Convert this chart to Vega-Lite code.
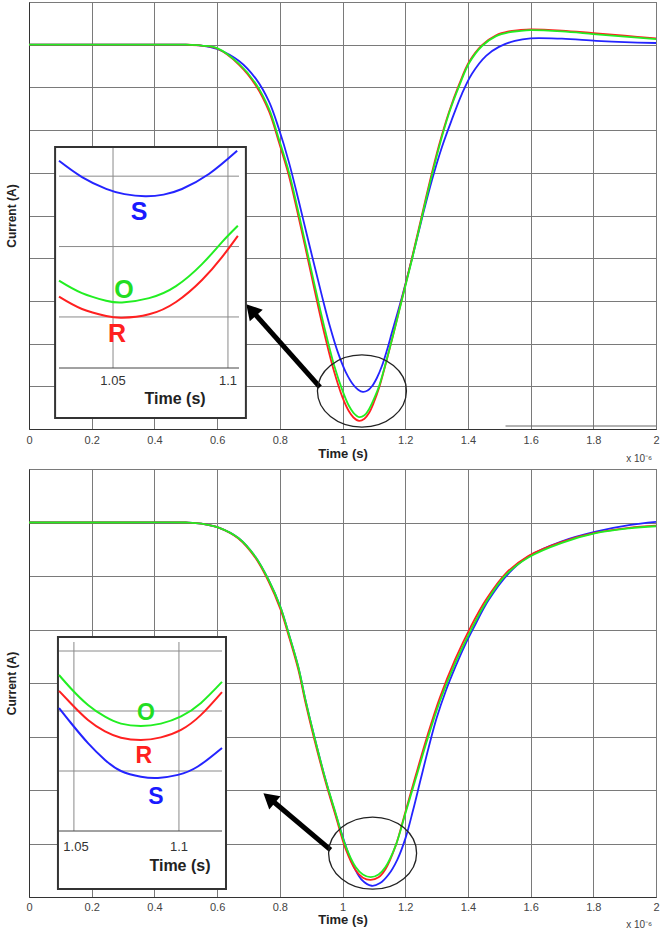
{
  "$schema": "https://vega.github.io/schema/vega-lite/v6.json",
  "padding": {"left": 4, "top": 1, "right": 0, "bottom": 0},
  "bounds": "flush",
  "spacing": 40,
  "config": {
    "view": {"stroke": "#555", "strokeWidth": 1},
    "font": "Liberation Sans",
    "axis": {"labelFont": "Liberation Sans", "titleFont": "Liberation Sans", "gridColor": "#7a7a7a", "gridOpacity": 1, "gridWidth": 1, "domainColor": "#333", "labelColor": "#444", "titleColor": "#222"}
  },
  "datasets": {
    "topMain": [
      {"s":"S","t":0,"i":9.0},{"s":"S","t":0.3,"i":9.0},{"s":"S","t":0.5,"i":9.0},{"s":"S","t":0.55,"i":8.98},{"s":"S","t":0.6,"i":8.9},{"s":"S","t":0.67,"i":8.62},{"s":"S","t":0.724,"i":8.2},{"s":"S","t":0.766,"i":7.66},{"s":"S","t":0.797,"i":7.03},{"s":"S","t":0.829,"i":6.25},{"s":"S","t":0.861,"i":5.32},{"s":"S","t":0.884,"i":4.62},{"s":"S","t":0.91,"i":3.84},{"s":"S","t":0.935,"i":3.1},{"s":"S","t":0.96,"i":2.4},{"s":"S","t":0.985,"i":1.8},{"s":"S","t":1.01,"i":1.34},{"s":"S","t":1.035,"i":1.03},{"s":"S","t":1.05,"i":0.92},{"s":"S","t":1.065,"i":0.87},{"s":"S","t":1.08,"i":0.9},{"s":"S","t":1.094,"i":1.0},{"s":"S","t":1.11,"i":1.2},{"s":"S","t":1.126,"i":1.48},{"s":"S","t":1.142,"i":1.85},{"s":"S","t":1.158,"i":2.27},{"s":"S","t":1.19,"i":3.1},{"s":"S","t":1.222,"i":4.0},{"s":"S","t":1.253,"i":4.92},{"s":"S","t":1.285,"i":5.82},{"s":"S","t":1.317,"i":6.6},{"s":"S","t":1.349,"i":7.25},{"s":"S","t":1.381,"i":7.85},{"s":"S","t":1.413,"i":8.32},{"s":"S","t":1.458,"i":8.74},{"s":"S","t":1.499,"i":8.95},{"s":"S","t":1.55,"i":9.09},{"s":"S","t":1.6,"i":9.15},{"s":"S","t":1.7,"i":9.14},{"s":"S","t":1.809,"i":9.09},{"s":"S","t":1.9,"i":9.06},{"s":"S","t":2.0,"i":9.04},
      {"s":"R","t":0,"i":9.0},{"s":"R","t":0.3,"i":9.0},{"s":"R","t":0.5,"i":9.0},{"s":"R","t":0.55,"i":8.98},{"s":"R","t":0.6,"i":8.91},{"s":"R","t":0.67,"i":8.53},{"s":"R","t":0.724,"i":8.04},{"s":"R","t":0.766,"i":7.43},{"s":"R","t":0.797,"i":6.72},{"s":"R","t":0.829,"i":5.93},{"s":"R","t":0.855,"i":5.12},{"s":"R","t":0.88,"i":4.3},{"s":"R","t":0.909,"i":3.32},{"s":"R","t":0.94,"i":2.3},{"s":"R","t":0.973,"i":1.35},{"s":"R","t":1.0,"i":0.74},{"s":"R","t":1.02,"i":0.42},{"s":"R","t":1.035,"i":0.27},{"s":"R","t":1.053,"i":0.19},{"s":"R","t":1.07,"i":0.24},{"s":"R","t":1.085,"i":0.38},{"s":"R","t":1.1,"i":0.62},{"s":"R","t":1.117,"i":0.97},{"s":"R","t":1.158,"i":2.1},{"s":"R","t":1.19,"i":3.06},{"s":"R","t":1.222,"i":4.02},{"s":"R","t":1.25,"i":4.9},{"s":"R","t":1.276,"i":5.72},{"s":"R","t":1.308,"i":6.65},{"s":"R","t":1.34,"i":7.43},{"s":"R","t":1.372,"i":8.07},{"s":"R","t":1.404,"i":8.6},{"s":"R","t":1.445,"i":8.99},{"s":"R","t":1.49,"i":9.22},{"s":"R","t":1.53,"i":9.31},{"s":"R","t":1.563,"i":9.34},{"s":"R","t":1.6,"i":9.36},{"s":"R","t":1.7,"i":9.33},{"s":"R","t":1.8,"i":9.27},{"s":"R","t":1.9,"i":9.21},{"s":"R","t":2.0,"i":9.15},
      {"s":"O","t":0,"i":9.0},{"s":"O","t":0.3,"i":9.0},{"s":"O","t":0.5,"i":9.0},{"s":"O","t":0.55,"i":8.98},{"s":"O","t":0.6,"i":8.92},{"s":"O","t":0.67,"i":8.55},{"s":"O","t":0.724,"i":8.08},{"s":"O","t":0.766,"i":7.49},{"s":"O","t":0.797,"i":6.79},{"s":"O","t":0.829,"i":6.02},{"s":"O","t":0.855,"i":5.22},{"s":"O","t":0.88,"i":4.4},{"s":"O","t":0.909,"i":3.44},{"s":"O","t":0.94,"i":2.45},{"s":"O","t":0.973,"i":1.5},{"s":"O","t":1.0,"i":0.9},{"s":"O","t":1.02,"i":0.55},{"s":"O","t":1.035,"i":0.38},{"s":"O","t":1.053,"i":0.28},{"s":"O","t":1.07,"i":0.32},{"s":"O","t":1.085,"i":0.47},{"s":"O","t":1.1,"i":0.7},{"s":"O","t":1.117,"i":1.01},{"s":"O","t":1.158,"i":2.1},{"s":"O","t":1.19,"i":3.04},{"s":"O","t":1.222,"i":3.98},{"s":"O","t":1.25,"i":4.86},{"s":"O","t":1.276,"i":5.67},{"s":"O","t":1.308,"i":6.6},{"s":"O","t":1.34,"i":7.4},{"s":"O","t":1.372,"i":8.03},{"s":"O","t":1.404,"i":8.57},{"s":"O","t":1.445,"i":8.97},{"s":"O","t":1.49,"i":9.2},{"s":"O","t":1.53,"i":9.29},{"s":"O","t":1.563,"i":9.32},{"s":"O","t":1.6,"i":9.34},{"s":"O","t":1.7,"i":9.31},{"s":"O","t":1.8,"i":9.25},{"s":"O","t":1.9,"i":9.19},{"s":"O","t":2.0,"i":9.13}
    ],
    "botMain": [
      {"s":"S","t":0,"i":7.0},{"s":"S","t":0.3,"i":7.0},{"s":"S","t":0.5,"i":7.0},{"s":"S","t":0.55,"i":6.98},{"s":"S","t":0.607,"i":6.9},{"s":"S","t":0.668,"i":6.71},{"s":"S","t":0.722,"i":6.36},{"s":"S","t":0.764,"i":5.93},{"s":"S","t":0.802,"i":5.42},{"s":"S","t":0.828,"i":4.93},{"s":"S","t":0.859,"i":4.3},{"s":"S","t":0.882,"i":3.68},{"s":"S","t":0.91,"i":3.0},{"s":"S","t":0.946,"i":2.19},{"s":"S","t":0.987,"i":1.38},{"s":"S","t":1.029,"i":0.66},{"s":"S","t":1.06,"i":0.33},{"s":"S","t":1.093,"i":0.21},{"s":"S","t":1.12,"i":0.26},{"s":"S","t":1.147,"i":0.42},{"s":"S","t":1.175,"i":0.7},{"s":"S","t":1.201,"i":1.1},{"s":"S","t":1.225,"i":1.62},{"s":"S","t":1.249,"i":2.19},{"s":"S","t":1.275,"i":2.8},{"s":"S","t":1.3,"i":3.34},{"s":"S","t":1.33,"i":3.86},{"s":"S","t":1.36,"i":4.3},{"s":"S","t":1.39,"i":4.7},{"s":"S","t":1.419,"i":5.04},{"s":"S","t":1.466,"i":5.55},{"s":"S","t":1.53,"i":6.05},{"s":"S","t":1.594,"i":6.37},{"s":"S","t":1.7,"i":6.65},{"s":"S","t":1.808,"i":6.83},{"s":"S","t":1.914,"i":6.95},{"s":"S","t":2.0,"i":7.01},
      {"s":"R","t":0,"i":7.0},{"s":"R","t":0.3,"i":7.0},{"s":"R","t":0.5,"i":7.0},{"s":"R","t":0.55,"i":6.98},{"s":"R","t":0.607,"i":6.9},{"s":"R","t":0.668,"i":6.7},{"s":"R","t":0.722,"i":6.34},{"s":"R","t":0.764,"i":5.9},{"s":"R","t":0.802,"i":5.38},{"s":"R","t":0.828,"i":4.89},{"s":"R","t":0.859,"i":4.25},{"s":"R","t":0.882,"i":3.63},{"s":"R","t":0.91,"i":2.95},{"s":"R","t":0.946,"i":2.15},{"s":"R","t":0.978,"i":1.52},{"s":"R","t":1.01,"i":0.9},{"s":"R","t":1.042,"i":0.5},{"s":"R","t":1.065,"i":0.36},{"s":"R","t":1.09,"i":0.32},{"s":"R","t":1.115,"i":0.37},{"s":"R","t":1.137,"i":0.52},{"s":"R","t":1.169,"i":0.95},{"s":"R","t":1.201,"i":1.6},{"s":"R","t":1.233,"i":2.26},{"s":"R","t":1.27,"i":3.0},{"s":"R","t":1.31,"i":3.72},{"s":"R","t":1.36,"i":4.45},{"s":"R","t":1.409,"i":5.05},{"s":"R","t":1.457,"i":5.55},{"s":"R","t":1.521,"i":6.05},{"s":"R","t":1.594,"i":6.38},{"s":"R","t":1.7,"i":6.64},{"s":"R","t":1.808,"i":6.81},{"s":"R","t":1.914,"i":6.9},{"s":"R","t":2.0,"i":6.94},
      {"s":"O","t":0,"i":7.0},{"s":"O","t":0.3,"i":7.0},{"s":"O","t":0.5,"i":7.0},{"s":"O","t":0.55,"i":6.98},{"s":"O","t":0.607,"i":6.9},{"s":"O","t":0.668,"i":6.71},{"s":"O","t":0.722,"i":6.36},{"s":"O","t":0.764,"i":5.93},{"s":"O","t":0.802,"i":5.42},{"s":"O","t":0.828,"i":4.93},{"s":"O","t":0.859,"i":4.3},{"s":"O","t":0.882,"i":3.68},{"s":"O","t":0.91,"i":3.0},{"s":"O","t":0.946,"i":2.19},{"s":"O","t":0.978,"i":1.57},{"s":"O","t":1.01,"i":0.95},{"s":"O","t":1.042,"i":0.56},{"s":"O","t":1.065,"i":0.42},{"s":"O","t":1.09,"i":0.37},{"s":"O","t":1.115,"i":0.42},{"s":"O","t":1.137,"i":0.56},{"s":"O","t":1.169,"i":0.95},{"s":"O","t":1.201,"i":1.57},{"s":"O","t":1.233,"i":2.2},{"s":"O","t":1.27,"i":2.93},{"s":"O","t":1.31,"i":3.65},{"s":"O","t":1.36,"i":4.38},{"s":"O","t":1.409,"i":4.98},{"s":"O","t":1.457,"i":5.5},{"s":"O","t":1.521,"i":6.02},{"s":"O","t":1.594,"i":6.35},{"s":"O","t":1.7,"i":6.62},{"s":"O","t":1.808,"i":6.8},{"s":"O","t":1.914,"i":6.89},{"s":"O","t":2.0,"i":6.93}
    ],
    "topInset": [
      {"s":"S","t":1.0265,"i":1.0875},{"s":"S","t":1.0365,"i":0.995},{"s":"S","t":1.047,"i":0.928},{"s":"S","t":1.055,"i":0.898},{"s":"S","t":1.064,"i":0.886},{"s":"S","t":1.072,"i":0.895},{"s":"S","t":1.08,"i":0.927},{"s":"S","t":1.0917,"i":1.012},{"s":"S","t":1.104,"i":1.144},
      {"s":"R","t":1.0265,"i":0.315},{"s":"R","t":1.0365,"i":0.245},{"s":"R","t":1.047,"i":0.205},{"s":"R","t":1.0539,"i":0.195},{"s":"R","t":1.0657,"i":0.215},{"s":"R","t":1.0774,"i":0.285},{"s":"R","t":1.0887,"i":0.41},{"s":"R","t":1.0974,"i":0.54},{"s":"R","t":1.1043,"i":0.661},
      {"s":"O","t":1.0265,"i":0.406},{"s":"O","t":1.0365,"i":0.335},{"s":"O","t":1.047,"i":0.292},{"s":"O","t":1.0539,"i":0.282},{"s":"O","t":1.0657,"i":0.307},{"s":"O","t":1.0774,"i":0.375},{"s":"O","t":1.0887,"i":0.5},{"s":"O","t":1.0974,"i":0.625},{"s":"O","t":1.1043,"i":0.718}
    ],
    "botInset": [
      {"s":"S","t":1.0429,"i":0.41},{"s":"S","t":1.0486,"i":0.36},{"s":"S","t":1.0567,"i":0.293},{"s":"S","t":1.0648,"i":0.237},{"s":"S","t":1.0724,"i":0.2},{"s":"S","t":1.0819,"i":0.181},{"s":"S","t":1.09,"i":0.177},{"s":"S","t":1.0995,"i":0.187},{"s":"S","t":1.109,"i":0.215},{"s":"S","t":1.1205,"i":0.277},
      {"s":"R","t":1.0429,"i":0.467},{"s":"R","t":1.0486,"i":0.425},{"s":"R","t":1.0567,"i":0.37},{"s":"R","t":1.0648,"i":0.332},{"s":"R","t":1.0724,"i":0.311},{"s":"R","t":1.0819,"i":0.303},{"s":"R","t":1.0914,"i":0.312},{"s":"R","t":1.101,"i":0.337},{"s":"R","t":1.1105,"i":0.387},{"s":"R","t":1.1205,"i":0.463},
      {"s":"O","t":1.0429,"i":0.52},{"s":"O","t":1.0486,"i":0.475},{"s":"O","t":1.0567,"i":0.42},{"s":"O","t":1.0648,"i":0.381},{"s":"O","t":1.0724,"i":0.358},{"s":"O","t":1.0819,"i":0.35},{"s":"O","t":1.0914,"i":0.358},{"s":"O","t":1.101,"i":0.382},{"s":"O","t":1.1105,"i":0.427},{"s":"O","t":1.1205,"i":0.497}
    ]
  },
  "vconcat": [
    {
      "width": 627,
      "height": 427,
      "resolve": {"scale": {"x": "independent", "y": "independent"}},
      "layer": [
        {
          "layer": [
            {
              "data": {"name": "topMain"},
              "mark": {"type": "line", "strokeWidth": 1.8, "interpolate": "catmull-rom"},
              "encoding": {
                "x": {"field": "t", "type": "quantitative", "scale": {"domain": [0, 2], "nice": false, "zero": false},
                  "axis": {"values": [0, 0.2, 0.4, 0.6, 0.8, 1, 1.2, 1.4, 1.6, 1.8, 2], "format": "~g", "grid": true, "ticks": false, "labelFontSize": 11, "labelPadding": 5, "labelFlush": false, "labelOverlap": false, "title": "Time (s)", "titleFontSize": 13, "titleFontWeight": "bold", "titlePadding": 2}},
                "y": {"field": "i", "type": "quantitative", "scale": {"domain": [0, 10], "nice": false, "zero": false},
                  "axis": {"values": [0, 1, 2, 3, 4, 5, 6, 7, 8, 9, 10], "labels": false, "ticks": false, "grid": true, "title": "Current (A)", "titleFontSize": 12, "titleFontWeight": "bold", "titlePadding": 11}},
                "color": {"field": "s", "type": "nominal", "scale": {"domain": ["S", "R", "O"], "range": ["#2424ff", "#ff2020", "#22ee22"]}, "legend": null}
              }
            },
            {
              "data": {"values": [{}]},
              "mark": {"type": "rule", "color": "#666", "strokeWidth": 1},
              "encoding": {
                "x": {"datum": 1.52, "type": "quantitative"},
                "y": {"datum": 0.07, "type": "quantitative"},
                "x2": {"datum": 2.0}
              }
            },
            {
              "data": {"values": [{}]},
              "mark": {"type": "rule", "color": "#000", "strokeWidth": 5},
              "encoding": {
                "x": {"datum": 0.928, "type": "quantitative"},
                "y": {"datum": 0.98, "type": "quantitative"},
                "x2": {"datum": 0.709},
                "y2": {"datum": 2.79}
              }
            },
            {
              "data": {"values": [{}]},
              "mark": {"type": "point", "shape": "triangle-up", "size": 300, "filled": true, "color": "#000", "opacity": 1, "angle": 318.3},
              "encoding": {
                "x": {"datum": 0.709, "type": "quantitative"},
                "y": {"datum": 2.79, "type": "quantitative"}
              }
            },
            {
              "data": {"values": [{}]},
              "mark": {"type": "point", "shape": "M-1,0A1,0.81,0,1,1,1,0A1,0.81,0,1,1,-1,0Z", "size": 7921, "filled": false, "stroke": "#222", "strokeWidth": 1.3, "opacity": 1},
              "encoding": {
                "x": {"datum": 1.062, "type": "quantitative"},
                "y": {"datum": 0.89, "type": "quantitative"}
              }
            },
            {
              "data": {"values": [{}]},
              "mark": {"type": "text", "text": "x 10⁻⁶", "align": "left", "baseline": "middle", "fontSize": 10, "color": "#444"},
              "encoding": {
                "x": {"datum": 1.905, "type": "quantitative"},
                "y": {"datum": -0.7, "type": "quantitative"}
              }
            }
          ]
        },
        {
          "layer": [
            {
              "data": {"values": [{}]},
              "mark": {"type": "rect", "fill": "#fff", "stroke": "#333", "strokeWidth": 2},
              "encoding": {
                "x": {"datum": 1.0248, "type": "quantitative", "scale": {"domain": [1.0265, 1.1048], "range": [30, 210], "nice": false, "zero": false}, "axis": null},
                "x2": {"datum": 1.1078},
                "y": {"datum": 1.166, "type": "quantitative", "scale": {"domain": [-0.09, 1.16], "range": [366, 146], "nice": false, "zero": false}, "axis": null},
                "y2": {"datum": -0.374}
              }
            },
            {
              "data": {"values": [{"g": 1.05}, {"g": 1.1}]},
              "mark": {"type": "rule", "color": "#8a8a8a", "strokeWidth": 1},
              "encoding": {
                "x": {"field": "g", "type": "quantitative", "axis": null},
                "y": {"datum": -0.09, "type": "quantitative", "axis": null},
                "y2": {"datum": 1.16}
              }
            },
            {
              "data": {"values": [{"g": 0.2}, {"g": 0.6}, {"g": 1.0}]},
              "mark": {"type": "rule", "color": "#8a8a8a", "strokeWidth": 1},
              "encoding": {
                "y": {"field": "g", "type": "quantitative", "axis": null},
                "x": {"datum": 1.0265, "type": "quantitative", "axis": null},
                "x2": {"datum": 1.1048}
              }
            },
            {
              "data": {"values": [{}]},
              "mark": {"type": "rule", "color": "#444", "strokeWidth": 1},
              "encoding": {
                "y": {"datum": -0.09, "type": "quantitative", "axis": null},
                "x": {"datum": 1.0265, "type": "quantitative", "axis": null},
                "x2": {"datum": 1.1048}
              }
            },
            {
              "data": {"name": "topInset"},
              "mark": {"type": "line", "strokeWidth": 2, "interpolate": "natural"},
              "encoding": {
                "x": {"field": "t", "type": "quantitative", "axis": null},
                "y": {"field": "i", "type": "quantitative", "axis": null},
                "color": {"field": "s", "type": "nominal", "scale": {"domain": ["S", "R", "O"], "range": ["#2424ff", "#ff2020", "#22ee22"]}, "legend": null}
              }
            },
            {
              "data": {"values": [{"g": 1.05, "lab": "1.05"}, {"g": 1.1, "lab": "1.1"}]},
              "mark": {"type": "text", "align": "center", "baseline": "middle", "fontSize": 13, "color": "#333"},
              "encoding": {
                "x": {"field": "g", "type": "quantitative", "axis": null},
                "y": {"datum": -0.164, "type": "quantitative", "axis": null},
                "text": {"field": "lab"}
              }
            },
            {
              "data": {"values": [{}]},
              "mark": {"type": "text", "text": "Time (s)", "align": "center", "baseline": "middle", "fontSize": 16, "fontWeight": "bold", "color": "#222"},
              "encoding": {
                "x": {"datum": 1.077, "type": "quantitative", "axis": null},
                "y": {"datum": -0.266, "type": "quantitative", "axis": null}
              }
            },
            {
              "data": {"values": [{}]},
              "mark": {"type": "text", "text": "S", "align": "center", "baseline": "middle", "fontSize": 25, "fontWeight": "bold", "color": "#1a1aff"},
              "encoding": {
                "x": {"datum": 1.0613, "type": "quantitative", "axis": null},
                "y": {"datum": 0.796, "type": "quantitative", "axis": null}
              }
            },
            {
              "data": {"values": [{}]},
              "mark": {"type": "text", "text": "O", "align": "center", "baseline": "middle", "fontSize": 25, "fontWeight": "bold", "color": "#22dd22"},
              "encoding": {
                "x": {"datum": 1.0548, "type": "quantitative", "axis": null},
                "y": {"datum": 0.353, "type": "quantitative", "axis": null}
              }
            },
            {
              "data": {"values": [{}]},
              "mark": {"type": "text", "text": "R", "align": "center", "baseline": "middle", "fontSize": 25, "fontWeight": "bold", "color": "#ff2020"},
              "encoding": {
                "x": {"datum": 1.0517, "type": "quantitative", "axis": null},
                "y": {"datum": 0.103, "type": "quantitative", "axis": null}
              }
            }
          ]
        }
      ]
    },
    {
      "width": 627,
      "height": 428,
      "resolve": {"scale": {"x": "independent", "y": "independent"}},
      "layer": [
        {
          "layer": [
            {
              "data": {"name": "botMain"},
              "mark": {"type": "line", "strokeWidth": 1.8, "interpolate": "catmull-rom"},
              "encoding": {
                "x": {"field": "t", "type": "quantitative", "scale": {"domain": [0, 2], "nice": false, "zero": false},
                  "axis": {"values": [0, 0.2, 0.4, 0.6, 0.8, 1, 1.2, 1.4, 1.6, 1.8, 2], "format": "~g", "grid": true, "ticks": false, "labelFontSize": 11, "labelPadding": 4, "labelFlush": false, "labelOverlap": false, "title": "Time (s)", "titleFontSize": 13, "titleFontWeight": "bold", "titlePadding": 1}},
                "y": {"field": "i", "type": "quantitative", "scale": {"domain": [0, 8], "nice": false, "zero": false},
                  "axis": {"values": [0, 1, 2, 3, 4, 5, 6, 7, 8], "labels": false, "ticks": false, "grid": true, "title": "Current (A)", "titleFontSize": 12, "titleFontWeight": "bold", "titlePadding": 11}},
                "color": {"field": "s", "type": "nominal", "scale": {"domain": ["S", "R", "O"], "range": ["#2424ff", "#ff2020", "#22ee22"]}, "legend": null}
              }
            },
            {
              "data": {"values": [{}]},
              "mark": {"type": "rule", "color": "#000", "strokeWidth": 5},
              "encoding": {
                "x": {"datum": 0.962, "type": "quantitative"},
                "y": {"datum": 0.88, "type": "quantitative"},
                "x2": {"datum": 0.766},
                "y2": {"datum": 1.85}
              }
            },
            {
              "data": {"values": [{}]},
              "mark": {"type": "point", "shape": "triangle-up", "size": 300, "filled": true, "color": "#000", "opacity": 1, "angle": 310.4},
              "encoding": {
                "x": {"datum": 0.766, "type": "quantitative"},
                "y": {"datum": 1.85, "type": "quantitative"}
              }
            },
            {
              "data": {"values": [{}]},
              "mark": {"type": "point", "shape": "M-1,0A1,0.82,0,1,1,1,0A1,0.82,0,1,1,-1,0Z", "size": 7744, "filled": false, "stroke": "#222", "strokeWidth": 1.3, "opacity": 1},
              "encoding": {
                "x": {"datum": 1.096, "type": "quantitative"},
                "y": {"datum": 0.82, "type": "quantitative"}
              }
            },
            {
              "data": {"values": [{}]},
              "mark": {"type": "text", "text": "x 10⁻⁶", "align": "left", "baseline": "middle", "fontSize": 10, "color": "#444"},
              "encoding": {
                "x": {"datum": 1.905, "type": "quantitative"},
                "y": {"datum": -0.52, "type": "quantitative"}
              }
            }
          ]
        },
        {
          "layer": [
            {
              "data": {"values": [{}]},
              "mark": {"type": "rect", "fill": "#fff", "stroke": "#333", "strokeWidth": 2},
              "encoding": {
                "x": {"datum": 1.0424, "type": "quantitative", "scale": {"domain": [1.0429, 1.1205], "range": [30, 193], "nice": false, "zero": false}, "axis": null},
                "x2": {"datum": 1.1224},
                "y": {"datum": 0.647, "type": "quantitative", "scale": {"domain": [0, 0.64], "range": [362, 170], "nice": false, "zero": false}, "axis": null},
                "y2": {"datum": -0.193}
              }
            },
            {
              "data": {"values": [{"g": 1.05}, {"g": 1.1}]},
              "mark": {"type": "rule", "color": "#8a8a8a", "strokeWidth": 1},
              "encoding": {
                "x": {"field": "g", "type": "quantitative", "axis": null},
                "y": {"datum": 0, "type": "quantitative", "axis": null},
                "y2": {"datum": 0.63}
              }
            },
            {
              "data": {"values": [{"g": 0.2}, {"g": 0.4}, {"g": 0.6}]},
              "mark": {"type": "rule", "color": "#8a8a8a", "strokeWidth": 1},
              "encoding": {
                "y": {"field": "g", "type": "quantitative", "axis": null},
                "x": {"datum": 1.0429, "type": "quantitative", "axis": null},
                "x2": {"datum": 1.1205}
              }
            },
            {
              "data": {"values": [{}]},
              "mark": {"type": "rule", "color": "#444", "strokeWidth": 1},
              "encoding": {
                "y": {"datum": 0, "type": "quantitative", "axis": null},
                "x": {"datum": 1.0429, "type": "quantitative", "axis": null},
                "x2": {"datum": 1.1205}
              }
            },
            {
              "data": {"name": "botInset"},
              "mark": {"type": "line", "strokeWidth": 2, "interpolate": "natural"},
              "encoding": {
                "x": {"field": "t", "type": "quantitative", "axis": null},
                "y": {"field": "i", "type": "quantitative", "axis": null},
                "color": {"field": "s", "type": "nominal", "scale": {"domain": ["S", "R", "O"], "range": ["#2424ff", "#ff2020", "#22ee22"]}, "legend": null}
              }
            },
            {
              "data": {"values": [{"g": 1.051, "lab": "1.05"}, {"g": 1.1, "lab": "1.1"}]},
              "mark": {"type": "text", "align": "center", "baseline": "middle", "fontSize": 13, "color": "#333"},
              "encoding": {
                "x": {"field": "g", "type": "quantitative", "axis": null},
                "y": {"datum": -0.053, "type": "quantitative", "axis": null},
                "text": {"field": "lab"}
              }
            },
            {
              "data": {"values": [{}]},
              "mark": {"type": "text", "text": "Time (s)", "align": "center", "baseline": "middle", "fontSize": 16, "fontWeight": "bold", "color": "#222"},
              "encoding": {
                "x": {"datum": 1.1005, "type": "quantitative", "axis": null},
                "y": {"datum": -0.117, "type": "quantitative", "axis": null}
              }
            },
            {
              "data": {"values": [{}]},
              "mark": {"type": "text", "text": "O", "align": "center", "baseline": "middle", "fontSize": 23, "fontWeight": "bold", "color": "#22dd22"},
              "encoding": {
                "x": {"datum": 1.0843, "type": "quantitative", "axis": null},
                "y": {"datum": 0.393, "type": "quantitative", "axis": null}
              }
            },
            {
              "data": {"values": [{}]},
              "mark": {"type": "text", "text": "R", "align": "center", "baseline": "middle", "fontSize": 23, "fontWeight": "bold", "color": "#ff2020"},
              "encoding": {
                "x": {"datum": 1.0833, "type": "quantitative", "axis": null},
                "y": {"datum": 0.25, "type": "quantitative", "axis": null}
              }
            },
            {
              "data": {"values": [{}]},
              "mark": {"type": "text", "text": "S", "align": "center", "baseline": "middle", "fontSize": 23, "fontWeight": "bold", "color": "#1a1aff"},
              "encoding": {
                "x": {"datum": 1.089, "type": "quantitative", "axis": null},
                "y": {"datum": 0.113, "type": "quantitative", "axis": null}
              }
            }
          ]
        }
      ]
    }
  ]
}
